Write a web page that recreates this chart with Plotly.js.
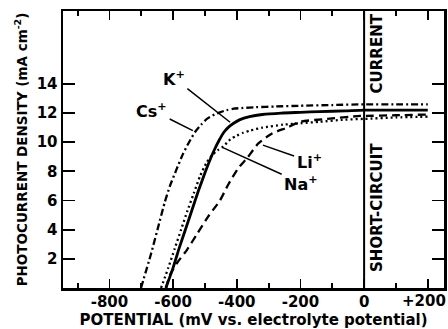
<!DOCTYPE html>
<html>
<head>
<meta charset="utf-8">
<script src="https://cdn.plot.ly/plotly-3.0.1.min.js"></script>
<style>html,body{margin:0;padding:0;background:#fff}#chart{width:448px;height:329px}</style>
</head>
<body>
<div id="chart"></div>
<script>
// Cs+ (dash-dot)
const csX = [-701, -670, -642, -626, -610, -590, -569, -550, -531, -512, -494, -470, -453, -432, -410, -380, -340, -280, -200, -100, 0, 100, 200];
const csY = [0, 2.3, 4.6, 5.9, 7.0, 8.1, 9.2, 10.0, 10.7, 11.2, 11.6, 11.9, 12.05, 12.2, 12.3, 12.35, 12.4, 12.45, 12.5, 12.55, 12.6, 12.6, 12.6];
// K+ (solid)
const kX = [-623, -600, -580, -560, -540, -520, -500, -484, -470, -455, -440, -425, -410, -390, -360, -320, -260, -200, -140, -60, 0, 100, 200];
const kY = [0, 1.4, 2.8, 4.1, 5.4, 6.7, 7.9, 8.8, 9.5, 10.15, 10.7, 11.05, 11.3, 11.55, 11.75, 11.9, 12.0, 12.05, 12.1, 12.15, 12.2, 12.2, 12.2];
// Na+ (dotted)
const naX = [-638, -615, -595, -575, -555, -535, -515, -495, -478, -460, -443, -420, -400, -380, -358, -320, -255, -200, -140, -60, 0, 100, 200];
const naY = [0, 1.4, 2.7, 4.0, 5.3, 6.5, 7.7, 8.6, 9.1, 9.45, 9.7, 10.2, 10.45, 10.65, 10.8, 11.0, 11.2, 11.3, 11.4, 11.55, 11.6, 11.7, 11.75];
// Li+ (dashed)
const liX = [-622, -610, -585, -557, -525, -490, -453, -428, -396, -368, -333, -289, -242, -201, -116, -13, 0, 100, 200];
const liY = [0, 0.9, 1.8, 2.6, 3.7, 4.9, 6.0, 7.05, 8.2, 8.9, 9.9, 10.6, 11.0, 11.4, 11.6, 11.8, 11.8, 11.85, 11.9];

// x tick labels (the last one, near the right edge, is drawn as an annotation nudged inward)
const xTickVals = [-800, -600, -400, -200, 0, 200];
const xTickText = ['-800', '-600', '-400', '-200', '0', '+200'];
const yTickVals = [2, 4, 6, 8, 10, 12, 14];
const yTickText = ['2', '4', '6', '8', '10', '12', '14'];

const shortCircuitX = 0;

// cation labels
const labelNames = ['K<sup>+</sup>', 'Cs<sup>+</sup>', 'Li<sup>+</sup>', 'Na<sup>+</sup>'];
const labelTipX = [-421, -538, -318, -447];
const labelTipY = [11.37, 10.8, 9.8, 9.66];
const labelTextX = [-597, -667, -173, -198];
const labelTextY = [14.4, 12.2, 8.7, 7.2];

const FONT = 'DejaVu Sans, Arial, sans-serif';
const lastIdx = xTickVals.length - 1;

function tr(x, y, dash, w) {
  return {x: x, y: y, type: 'scatter', mode: 'lines', hoverinfo: 'skip',
    line: {color: '#000', width: w, dash: dash, shape: 'spline', smoothing: 0.6}, showlegend: false};
}

const data = [
  tr(csX, csY, '7px,3px,2px,3px', 2.3),
  tr(kX, kY, 'solid', 2.8),
  tr(naX, naY, '2px,3px', 2.3),
  tr(liX, liY, '8px,5px', 2.3)
];

const annotations = labelNames.map((t, i) => ({
  text: '<b>' + t + '</b>', x: labelTipX[i], y: labelTipY[i], ax: labelTextX[i], ay: labelTextY[i],
  xref: 'x', yref: 'y', axref: 'x', ayref: 'y',
  showarrow: true, arrowhead: 0, arrowwidth: 1.5, arrowcolor: '#000', standoff: 0, startstandoff: 1,
  font: {family: FONT, size: 16, color: '#000'}
}));
annotations.push({
  text: '<b>SHORT-CIRCUIT</b>', x: shortCircuitX, y: 5.5, xref: 'x', yref: 'y', xshift: 13,
  textangle: -90, showarrow: false, font: {family: FONT, size: 15, color: '#000'}
});
annotations.push({
  text: '<b>CURRENT</b>', x: shortCircuitX, y: 16.1, xref: 'x', yref: 'y', xshift: 13,
  textangle: -90, showarrow: false, font: {family: FONT, size: 15, color: '#000'}
});
annotations.push({
  text: '<b>' + xTickText[lastIdx] + '</b>', x: xTickVals[lastIdx], y: 0, xref: 'x', yref: 'paper',
  xanchor: 'right', xshift: 20, yanchor: 'top', yshift: -2, showarrow: false,
  font: {family: FONT, size: 15, color: '#000'}
});

const layout = {
  width: 448, height: 329,
  margin: {l: 63, r: 4, t: 11, b: 41},
  paper_bgcolor: '#fff', plot_bgcolor: '#fff',
  showlegend: false,
  font: {family: FONT, color: '#000'},
  xaxis: {
    range: [-946, 251], showgrid: false, zeroline: false,
    showline: true, linewidth: 2.5, linecolor: '#000', mirror: 'ticks',
    ticks: 'inside', ticklen: 9, tickwidth: 1.8, tickcolor: '#000',
    tickmode: 'array', tickvals: xTickVals, ticktext: xTickText.map((t, i) => i === lastIdx ? ' ' : t),
    ticklabelstandoff: -2,
    tickfont: {family: FONT, size: 15, color: '#000', weight: 'bold'},
    minor: {ticks: 'inside', ticklen: 5, tickwidth: 1.8, tickcolor: '#000', dtick: 100, tick0: 0, showgrid: false},
    title: {text: '<b>POTENTIAL (mV vs. electrolyte potential)</b>', font: {family: FONT, size: 15, color: '#000'}, standoff: 2}
  },
  yaxis: {
    range: [0, 19], showgrid: false, zeroline: false,
    showline: true, linewidth: 2.5, linecolor: '#000', mirror: 'ticks',
    ticks: 'inside', ticklen: 12, tickwidth: 1.8, tickcolor: '#000',
    tickmode: 'array', tickvals: yTickVals, ticktext: yTickText,
    tickfont: {family: FONT, size: 15, color: '#000', weight: 'bold'},
    title: {text: '<b>PHOTOCURRENT DENSITY (mA cm<sup>-2</sup>)</b>', font: {family: FONT, size: 13.5, color: '#000'}, standoff: 6}
  },
  shapes: [{type: 'line', xref: 'x', yref: 'y', x0: shortCircuitX, x1: shortCircuitX, y0: 0, y1: 19,
    line: {color: '#000', width: 2}}],
  annotations: annotations
};

Plotly.newPlot('chart', data, layout, {staticPlot: true, displayModeBar: false});
</script>
</body>
</html>
